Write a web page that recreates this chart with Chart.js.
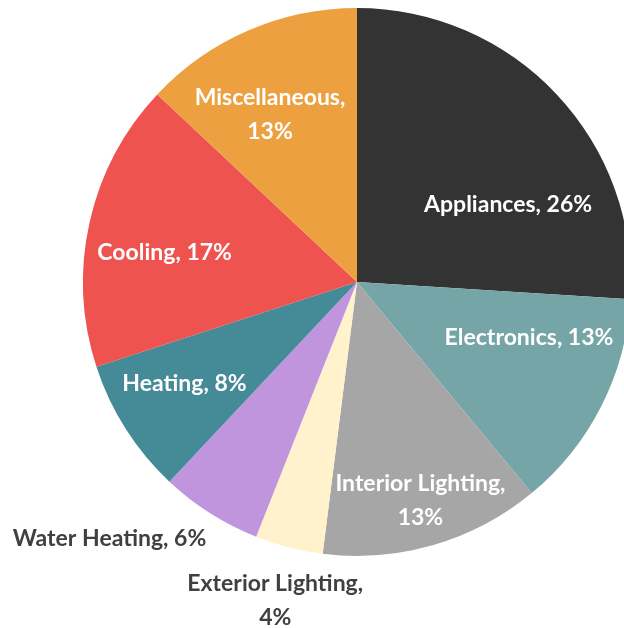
<!DOCTYPE html>
<html>
<head>
<meta charset="utf-8">
<script src="https://cdn.jsdelivr.net/npm/chart.js@4.4.1/dist/chart.umd.min.js"></script>
<style>
  html, body { margin: 0; padding: 0; background: #fff; overflow: hidden; }
  #wrap { position: relative; width: 660px; height: 628px; }
</style>
</head>
<body>
<div id="wrap"><canvas id="pie" width="660" height="628"></canvas></div>
<script>
// energy end use shares (percent)
const categories = ['Appliances', 'Electronics', 'Interior Lighting', 'Exterior Lighting',
  'Water Heating', 'Heating', 'Cooling', 'Miscellaneous'];
const shares = [26, 13, 13, 4, 6, 8, 17, 13];
const sliceColors = ['#333333', '#76a5a8', '#a6a6a6', '#fff2cc', '#c095de', '#448a97', '#ef534f', '#eca040'];

// label placement: distance as fraction of radius, angle nudge in degrees
const labelDist = [0.62, 0.66, 0.83, 1.20, 1.30, 0.73, 0.71, 0.69];
const labelNudge = [16, -9, 0, 0, 11.6, 2, -4, -4];
const labelLines = [
  ['Appliances, 26%'],
  ['Electronics, 13%'],
  ['Interior Lighting,', '13%'],
  ['Exterior Lighting,', '4%'],
  ['Water Heating, 6%'],
  ['Heating, 8%'],
  ['Cooling, 17%'],
  ['Miscellaneous,', '13%']
];
const outside = [false, false, false, true, true, false, false, false];

const sliceLabels = {
  id: 'sliceLabels',
  afterDatasetsDraw(chart) {
    const ctx = chart.ctx;
    const arcs = chart.getDatasetMeta(0).data;
    ctx.save();
    ctx.font = 'bold 23px Lato, "Open Sans", sans-serif';
    ctx.textAlign = 'center';
    ctx.textBaseline = 'middle';
    arcs.forEach((arc, i) => {
      const p = arc.getProps(['x', 'y', 'startAngle', 'endAngle', 'outerRadius'], true);
      const mid = (p.startAngle + p.endAngle) / 2 + labelNudge[i] * Math.PI / 180;
      const r = p.outerRadius * labelDist[i];
      const cx = p.x + Math.cos(mid) * r;
      const cy = p.y + Math.sin(mid) * r;
      const lines = labelLines[i];
      const lh = 34;
      ctx.fillStyle = outside[i] ? '#404040' : '#ffffff';
      lines.forEach((t, k) => {
        ctx.fillText(t, cx, cy + (k - (lines.length - 1) / 2) * lh);
      });
    });
    ctx.restore();
  }
};

new Chart(document.getElementById('pie'), {
  type: 'pie',
  data: {
    labels: categories,
    datasets: [{
      data: shares,
      backgroundColor: sliceColors,
      borderWidth: 0
    }]
  },
  options: {
    responsive: false,
    animation: false,
    layout: { padding: { left: 83, right: 29, top: 8, bottom: 72 } },
    plugins: { legend: { display: false }, tooltip: { enabled: false } }
  },
  plugins: [sliceLabels]
});
</script>
</body>
</html>
